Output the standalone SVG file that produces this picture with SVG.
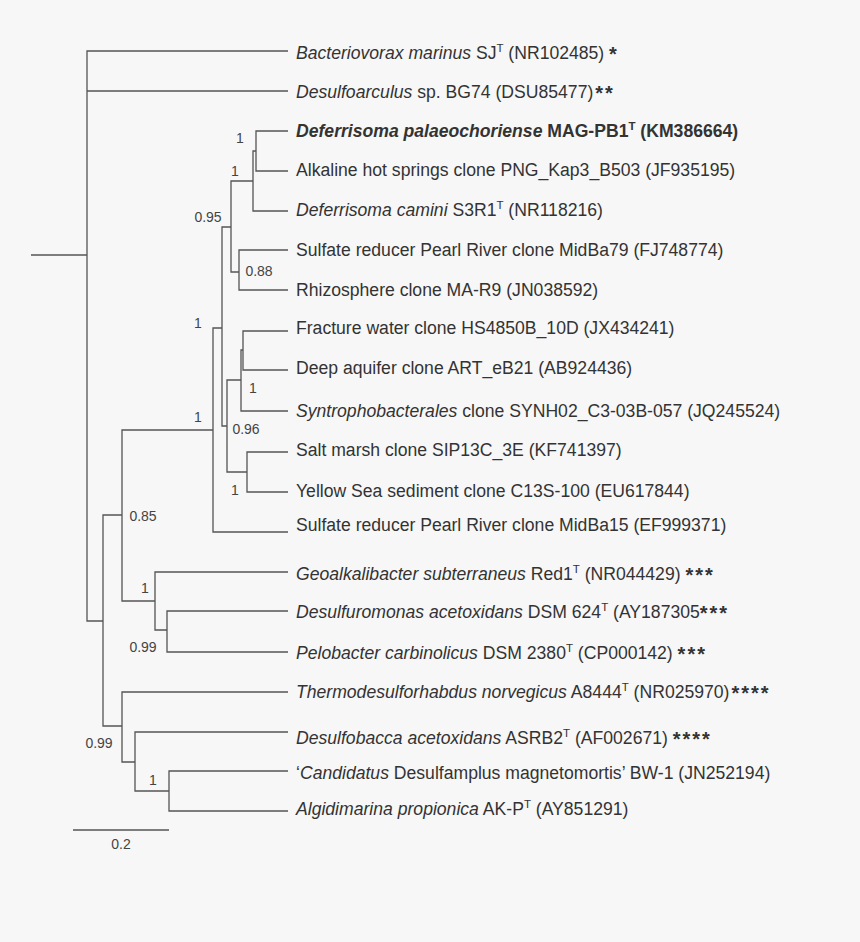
<svg xmlns="http://www.w3.org/2000/svg" width="860" height="942" viewBox="0 0 860 942">
<style>
.br{fill:none;stroke:#555;stroke-width:1.3}
.lab{font-family:"Liberation Sans",Arial,sans-serif;font-size:17.6px;fill:#333}
.it{font-style:italic}
.b{font-weight:bold}
.sup{font-size:11.5px}
.ast{font-size:20px;font-weight:bold;letter-spacing:2px}
.bs{font-family:"Liberation Sans",Arial,sans-serif;font-size:14px;fill:#444}
</style>
<rect width="860" height="942" fill="#f7f7f7"/>
<g id="connectors" class="br">
<path d="M31 255 H87"/>
<path d="M288 51 H87 V621 H103"/>
<path d="M87 91 H288"/>
<path d="M122 515 H103 V726 H122"/>
<path d="M213 430 H122 V601 H155"/>
<path d="M222 328 H213 V532 H288"/>
<path d="M231 227 H222 V426 H227"/>
<path d="M253 181 H231 V272 H239"/>
<path d="M256 151 H253 V211 H288"/>
<path d="M288 131 H256 V171 H288"/>
<path d="M288 250 H239 V290 H288"/>
<path d="M241 380 H227 V472 H247"/>
<path d="M243 350 H241 V411 H288"/>
<path d="M288 331 H243 V370 H288"/>
<path d="M288 452 H247 V492 H288"/>
<path d="M288 572 H155 V630 H167"/>
<path d="M288 611 H167 V652 H288"/>
<path d="M288 692 H122 V762 H135"/>
<path d="M288 732 H135 V791 H169"/>
<path d="M288 771 H169 V811 H288"/>
<path d="M73 830 H169"/>
</g>
<g id="support" class="bs">
<text x="240" y="143" text-anchor="middle">1</text>
<text x="235" y="176" text-anchor="middle">1</text>
<text x="208" y="222" text-anchor="middle">0.95</text>
<text x="259" y="276" text-anchor="middle">0.88</text>
<text x="198" y="328" text-anchor="middle">1</text>
<text x="198" y="422" text-anchor="middle">1</text>
<text x="253" y="393" text-anchor="middle">1</text>
<text x="246" y="434" text-anchor="middle">0.96</text>
<text x="235" y="495" text-anchor="middle">1</text>
<text x="143" y="521" text-anchor="middle">0.85</text>
<text x="145" y="593" text-anchor="middle">1</text>
<text x="143" y="652" text-anchor="middle">0.99</text>
<text x="99" y="748" text-anchor="middle">0.99</text>
<text x="153" y="785" text-anchor="middle">1</text>
<text id="scale" x="121" y="849" text-anchor="middle">0.2</text>
</g>
<g id="t1"><text class="lab" x="296" y="59"><tspan class="it">Bacteriovorax marinus</tspan> SJ<tspan class="sup" dy="-7">T</tspan><tspan dy="7"> (NR102485) </tspan><tspan class="ast" dy="1.5">*</tspan></text></g>
<g id="t2"><text class="lab" x="296" y="98"><tspan class="it">Desulfoarculus</tspan> sp. BG74 (DSU85477)<tspan class="ast" dx="2" dy="1.5">**</tspan></text></g>
<g id="t3"><text class="lab b" x="296" y="137"><tspan class="it">Deferrisoma palaeochoriense</tspan> MAG-PB1<tspan class="sup" dy="-7">T</tspan><tspan dy="7"> (KM386664)</tspan></text></g>
<g id="t4"><text class="lab" x="296" y="176">Alkaline hot springs clone PNG_Kap3_B503 (JF935195)</text></g>
<g id="t5"><text class="lab" x="296" y="216"><tspan class="it">Deferrisoma camini</tspan> S3R1<tspan class="sup" dy="-7">T</tspan><tspan dy="7"> (NR118216)</tspan></text></g>
<g id="t6"><text class="lab" x="296" y="256">Sulfate reducer Pearl River clone MidBa79 (FJ748774)</text></g>
<g id="t7"><text class="lab" x="296" y="296">Rhizosphere clone MA-R9 (JN038592)</text></g>
<g id="t8"><text class="lab" x="296" y="334">Fracture water clone HS4850B_10D (JX434241)</text></g>
<g id="t9"><text class="lab" x="296" y="374">Deep aquifer clone ART_eB21 (AB924436)</text></g>
<g id="t10"><text class="lab" x="296" y="417"><tspan class="it">Syntrophobacterales</tspan> clone SYNH02_C3-03B-057 (JQ245524)</text></g>
<g id="t11"><text class="lab" x="296" y="456">Salt marsh clone SIP13C_3E (KF741397)</text></g>
<g id="t12"><text class="lab" x="296" y="497">Yellow Sea sediment clone C13S-100 (EU617844)</text></g>
<g id="t13"><text class="lab" x="296" y="531">Sulfate reducer Pearl River clone MidBa15 (EF999371)</text></g>
<g id="t14"><text class="lab" x="296" y="580"><tspan class="it">Geoalkalibacter subterraneus</tspan> Red1<tspan class="sup" dy="-7">T</tspan><tspan dy="7"> (NR044429) </tspan><tspan class="ast" dy="1.5">***</tspan></text></g>
<g id="t15"><text class="lab" x="296" y="618"><tspan class="it">Desulfuromonas acetoxidans</tspan> DSM 624<tspan class="sup" dy="-7">T</tspan><tspan dy="7"> (AY187305</tspan><tspan class="ast" dy="1.5">***</tspan></text></g>
<g id="t16"><text class="lab" x="296" y="659"><tspan class="it">Pelobacter carbinolicus</tspan> DSM 2380<tspan class="sup" dy="-7">T</tspan><tspan dy="7"> (CP000142) </tspan><tspan class="ast" dy="1.5">***</tspan></text></g>
<g id="t17"><text class="lab" x="296" y="698"><tspan class="it">Thermodesulforhabdus norvegicus</tspan> A8444<tspan class="sup" dy="-7">T</tspan><tspan dy="7"> (NR025970)</tspan><tspan class="ast" dx="2" dy="1.5">****</tspan></text></g>
<g id="t18"><text class="lab" x="296" y="744"><tspan class="it">Desulfobacca acetoxidans</tspan> ASRB2<tspan class="sup" dy="-7">T</tspan><tspan dy="7"> (AF002671) </tspan><tspan class="ast" dy="1.5">****</tspan></text></g>
<g id="t19"><text class="lab" x="296" y="779">‘<tspan class="it">Candidatus</tspan> Desulfamplus magnetomortis’ BW-1 (JN252194)</text></g>
<g id="t20"><text class="lab" x="296" y="815"><tspan class="it">Algidimarina propionica</tspan> AK-P<tspan class="sup" dy="-7">T</tspan><tspan dy="7"> (AY851291)</tspan></text></g>
</svg>
